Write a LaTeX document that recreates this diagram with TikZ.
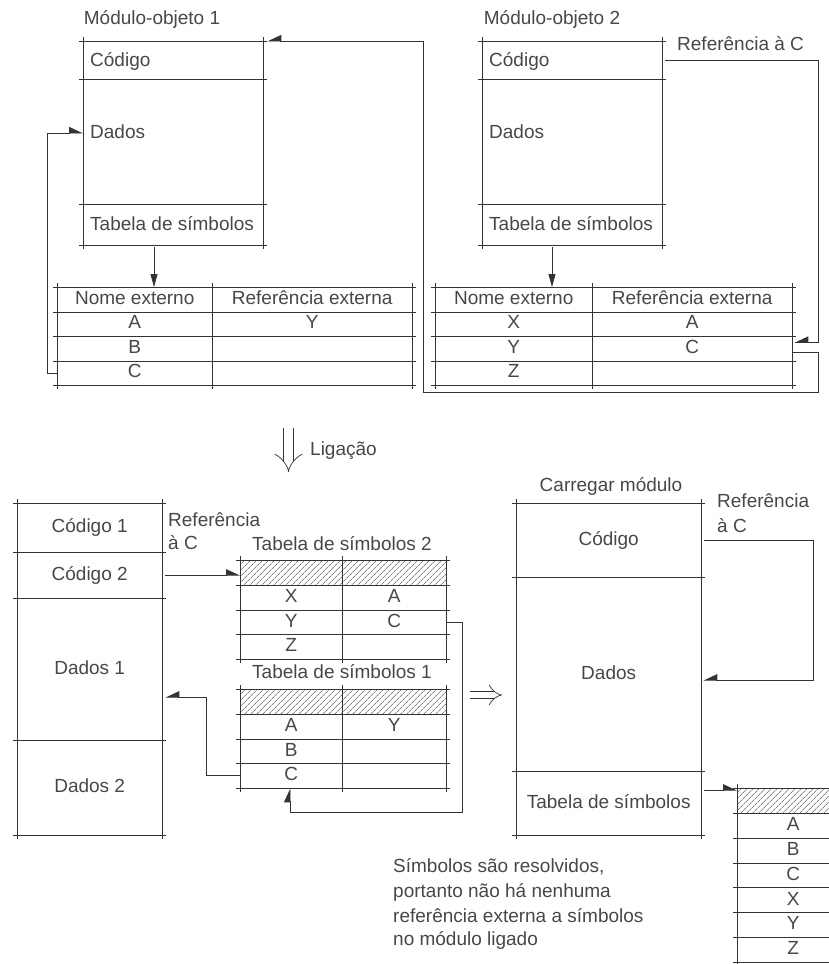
\documentclass[tikz,border=0pt]{standalone}
\usepackage{fontspec}
\setmainfont{Liberation Sans}
\usetikzlibrary{arrows.meta,patterns.meta,matrix}
\tikzset{
 ln/.style={draw=black!80, line width=0.8pt},
 ext/.style={ln, shorten <=-4pt, shorten >=-4pt},
 txt/.style={text=black!72, font=\fontsize{19}{23}\selectfont, inner sep=0pt, text height=14pt, text depth=4pt},
 sec/.style={rectangle, draw=none, inner sep=0pt, anchor=north west},
 arr/.style={ln, -{Triangle[length=13pt, width=12pt, harpoon]}},
 arrs/.style={ln, -{Triangle[length=13pt, width=12pt, harpoon, swap]}},
 arrd/.style={ln, -{Triangle[length=13pt, width=7pt]}},
 dbl/.style={draw=black!80, line width=0.7pt, double distance=9.5pt, -{Implies}},
 dblh/.style={draw=black!80, line width=0.7pt, double distance=6.5pt, -{Implies}},
 hatch/.style={pattern={Lines[angle=45, distance=4pt, line width=0.6pt]}, pattern color=black!75},
 tab/.style={matrix of nodes, nodes in empty cells, anchor=north west, inner sep=0pt, column sep=0pt, row sep=0pt, nodes={txt, anchor=center}},
}
\newcommand\sect[5]{\node[sec, minimum width=#4pt, minimum height=#5pt] (#1) at (#2,#3) {};}
\newcommand\hsouth[1]{\draw[ext] (#1.south west) -- (#1.south east);}
\newcommand\hnorth[1]{\draw[ext] (#1.north west) -- (#1.north east);}
\newcommand\vsides[2]{\draw[ext] (#1.north west) -- (#2.south west); \draw[ext] (#1.north east) -- (#2.south east);}
\newcommand\tablines[2]{%
 \draw[ext] (#1-1-1.north west) -- (#1-1-2.north east);
 \foreach \r in {1,...,#2} {\draw[ext] (#1-\r-1.south west) -- (#1-\r-2.south east);}
 \draw[ext] (#1-1-1.north west) -- (#1-#2-1.south west);
 \draw[ext] (#1-1-1.north east) -- (#1-#2-1.south east);
 \draw[ext] (#1-1-2.north east) -- (#1-#2-2.south east);
}
\begin{document}
\begin{tikzpicture}[x=1pt,y=-1pt]
\useasboundingbox (0,0) rectangle (829,964);
% ---------------- Module 1
\node[txt] (m1title) at (152,19) {Módulo-objeto 1};
\sect{m1c}{83}{41}{180}{38}
\sect{m1d}{83}{79}{180}{125}
\sect{m1t}{83}{204}{180}{41}
\hnorth{m1c}\hsouth{m1c}\hsouth{m1d}\hsouth{m1t}\vsides{m1c}{m1t}
\node[txt, anchor=west] (m1ct) at (90,61) {Código};
\node[txt, anchor=west] (m1dt) at (90,133) {Dados};
\node[txt, anchor=west] (m1tt) at (90,225) {Tabela de símbolos};
\matrix[tab, nodes={minimum height=24.5pt}, column 1/.style={nodes={minimum width=155pt}}, column 2/.style={nodes={minimum width=200pt}}] (t1) at (57,287) {
Nome externo & Referência externa \\
A & Y \\
B & \\
C & \\
};
\tablines{t1}{4}
\coordinate (a1) at (154,247);
\draw[arrd] (a1) -- (a1 |- t1.north);
\coordinate (l1) at (47,0);
\draw[arr] (t1-4-1.west) -- (t1-4-1.west -| l1) -- (l1 |- m1dt.west) -- (m1d.west |- m1dt.west);
% ---------------- Module 2
\node[txt] (m2title) at (552,19) {Módulo-objeto 2};
\sect{m2c}{482}{41}{180}{38}
\sect{m2d}{482}{79}{180}{125}
\sect{m2t}{482}{204}{180}{41}
\hnorth{m2c}\hsouth{m2c}\hsouth{m2d}\hsouth{m2t}\vsides{m2c}{m2t}
\node[txt, anchor=west] (m2ct) at (489,61) {Código};
\node[txt, anchor=west] (m2dt) at (489,133) {Dados};
\node[txt, anchor=west] (m2tt) at (489,225) {Tabela de símbolos};
\node[txt, anchor=west] (ref1) at (677,45) {Referência à C};
\matrix[tab, nodes={minimum height=24.5pt}, column 1/.style={nodes={minimum width=157pt}}, column 2/.style={nodes={minimum width=200pt}}] (t2) at (435,287) {
Nome externo & Referência externa \\
X & A \\
Y & C \\
Z & \\
};
\tablines{t2}{4}
\coordinate (a2) at (552,247);
\draw[arrd] (a2) -- (a2 |- t2.north);
\coordinate (rx1) at (818,0);
\coordinate (in2) at ([yshift=6pt]t2-3-2.east);
\coordinate (out2) at ([yshift=-4pt]t2-3-2.east);
\draw[arrs] ([xshift=3pt]m2c.east) -- (m2c.east -| rx1) -- (rx1 |- in2) -- ([xshift=2pt]in2);
\coordinate (lx) at (423,0);
\coordinate (yb) at (0,392);
\draw[arrs] (out2) -- (out2 -| rx1) -- (rx1 |- yb) -- (lx |- yb) -- (lx |- m1c.north) -- ([xshift=4pt]m1c.north east);
% ---------------- Ligacao
\coordinate (lg1) at (288.5,428);
\coordinate (lg2) at (288.5,472);
\draw[dbl] (lg1) -- (lg2);
\node[txt, anchor=west] (lig) at (310,450) {Ligação};
% ---------------- Linked module (bottom left)
\node[sec, txt, minimum width=145pt, minimum height=49pt] (b1) at (17,503) {Código 1};
\node[sec, txt, minimum width=145pt, minimum height=46pt] (b2) at (17,552) {Código 2};
\node[sec, txt, minimum width=145pt, minimum height=142pt] (b3) at (17,598) {Dados 1};
\node[sec, txt, minimum width=145pt, minimum height=95pt] (b4) at (17,740) {Dados 2};
\hnorth{b1}\hsouth{b1}\hsouth{b2}\hsouth{b3}\hsouth{b4}\vsides{b1}{b4}
\node[txt, anchor=west] (ref2a) at (168,521) {Referência};
\node[txt, anchor=west] (ref2b) at (168,544) {à C};
\node[txt] (s2t) at (342,545) {Tabela de símbolos 2};
\matrix[tab, nodes={minimum height=24.75pt}, column 1/.style={nodes={minimum width=102pt}}, column 2/.style={nodes={minimum width=104pt}}] (s2) at (240,560) {
{} & {} \\
X & A \\
Y & C \\
Z & \\
};
\fill[hatch] (s2-1-1.north west) rectangle (s2-1-2.south east);
\tablines{s2}{4}
\node[txt] (s1t) at (342,673) {Tabela de símbolos 1};
\matrix[tab, nodes={minimum height=24.75pt}, column 1/.style={nodes={minimum width=102pt}}, column 2/.style={nodes={minimum width=104pt}}] (s1) at (240,689) {
{} & {} \\
A & Y \\
B & \\
C & \\
};
\fill[hatch] (s1-1-1.north west) rectangle (s1-1-2.south east);
\tablines{s1}{4}
\draw[arr] ([xshift=3pt]b2.east) -- (b2.east -| s2.west);
\coordinate (vx) at (206,0);
\coordinate (da) at ([yshift=-28pt]b3.east);
\draw[arrs] (s1-4-1.west) -- (s1-4-1.west -| vx) -- (vx |- da) -- ([xshift=3pt]da);
\coordinate (rx2) at (462,0);
\coordinate (ux) at (290,812);
\draw[arr] (s2-3-2.east) -- (s2-3-2.east -| rx2) -- (rx2 |- ux) -- (ux) -- (ux |- s1.south);
% ---------------- implies
\coordinate (im1) at (470,695);
\coordinate (im2) at (502,695);
\draw[dblh] (im1) -- (im2);
% ---------------- Load module
\node[txt] (ctitle) at (611,486) {Carregar módulo};
\node[sec, txt, minimum width=185pt, minimum height=74pt] (c1) at (516,503) {Código};
\node[sec, txt, minimum width=185pt, minimum height=194pt] (c2) at (516,577) {Dados};
\node[sec, txt, minimum width=185pt, minimum height=64pt] (c3) at (516,771) {Tabela de símbolos};
\hnorth{c1}\hsouth{c1}\hsouth{c2}\hsouth{c3}\vsides{c1}{c3}
\node[txt, anchor=west] (ref3a) at (717,502) {Referência};
\node[txt, anchor=west] (ref3b) at (717,527) {à C};
\coordinate (rx3) at (813,0);
\coordinate (dd) at ([yshift=-6pt]c2.east);
\draw[arrs] ([xshift=3pt]c1.east) -- (c1.east -| rx3) -- (rx3 |- dd) -- ([xshift=2pt]dd);
\begin{scope}
\clip (0,0) rectangle (829,964);
\matrix[tab, nodes={minimum height=24.86pt, minimum width=112pt}] (ft) at (737,788) {
{} \\ A \\ B \\ C \\ X \\ Y \\ Z \\
};
\fill[hatch] (ft-1-1.north west) rectangle (ft-1-1.south east);
\draw[ext] (ft-1-1.north west) -- (ft-1-1.north east);
\foreach \r in {1,...,7} {\draw[ext] (ft-\r-1.south west) -- (ft-\r-1.south east);}
\draw[ext] (ft-1-1.north west) -- (ft-7-1.south west);
\end{scope}
\coordinate (tt) at ([yshift=13pt]c3.east);
\draw[arr] ([xshift=3pt]tt) -- (tt -| ft.west);
% ---------------- note
\node[txt, anchor=west] (n1) at (393,867) {Símbolos são resolvidos,};
\node[txt, anchor=west] (n2) at (393,892) {portanto não há nenhuma};
\node[txt, anchor=west] (n3) at (393,917) {referência externa a símbolos};
\node[txt, anchor=west] (n4) at (393,940) {no módulo ligado};
\end{tikzpicture}
\end{document}
